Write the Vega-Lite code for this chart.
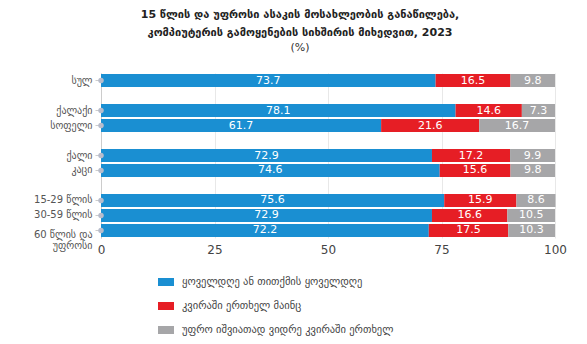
{
  "$schema": "https://vega.github.io/schema/vega-lite/v6.json",
  "width": 454,
  "height": 165,
  "autosize": {"type": "none"},
  "padding": {"top": 73, "left": 101, "right": 32, "bottom": 106},
  "background": "white",
  "config": {
    "view": {"stroke": null},
    "font": "DejaVu Sans"
  },
  "title": {
    "text": ["15 წლის და უფროსი ასაკის მოსახლეობის განაწილება,", "კომპიუტერის გამოყენების სიხშირის მიხედვით, 2023"],
    "subtitle": "(%)",
    "anchor": "middle",
    "frame": "group",
    "dx": -28,
    "fontSize": 11,
    "fontWeight": "bold",
    "color": "#222",
    "lineHeight": 18,
    "subtitleFontSize": 11,
    "subtitleColor": "#333",
    "subtitlePadding": 4,
    "offset": 20
  },
  "data": {
    "values": [
      {"cat": "სულ", "series": "ყოველდღე ან თითქმის ყოველდღე", "ord": 1, "value": 73.7},
      {"cat": "სულ", "series": "კვირაში ერთხელ მაინც", "ord": 2, "value": 16.5},
      {"cat": "სულ", "series": "უფრო იშვიათად ვიდრე კვირაში ერთხელ", "ord": 3, "value": 9.8},
      {"cat": "ქალაქი", "series": "ყოველდღე ან თითქმის ყოველდღე", "ord": 1, "value": 78.1},
      {"cat": "ქალაქი", "series": "კვირაში ერთხელ მაინც", "ord": 2, "value": 14.6},
      {"cat": "ქალაქი", "series": "უფრო იშვიათად ვიდრე კვირაში ერთხელ", "ord": 3, "value": 7.3},
      {"cat": "სოფელი", "series": "ყოველდღე ან თითქმის ყოველდღე", "ord": 1, "value": 61.7},
      {"cat": "სოფელი", "series": "კვირაში ერთხელ მაინც", "ord": 2, "value": 21.6},
      {"cat": "სოფელი", "series": "უფრო იშვიათად ვიდრე კვირაში ერთხელ", "ord": 3, "value": 16.7},
      {"cat": "ქალი", "series": "ყოველდღე ან თითქმის ყოველდღე", "ord": 1, "value": 72.9},
      {"cat": "ქალი", "series": "კვირაში ერთხელ მაინც", "ord": 2, "value": 17.2},
      {"cat": "ქალი", "series": "უფრო იშვიათად ვიდრე კვირაში ერთხელ", "ord": 3, "value": 9.9},
      {"cat": "კაცი", "series": "ყოველდღე ან თითქმის ყოველდღე", "ord": 1, "value": 74.6},
      {"cat": "კაცი", "series": "კვირაში ერთხელ მაინც", "ord": 2, "value": 15.6},
      {"cat": "კაცი", "series": "უფრო იშვიათად ვიდრე კვირაში ერთხელ", "ord": 3, "value": 9.8},
      {"cat": "15-29 წლის", "series": "ყოველდღე ან თითქმის ყოველდღე", "ord": 1, "value": 75.6},
      {"cat": "15-29 წლის", "series": "კვირაში ერთხელ მაინც", "ord": 2, "value": 15.9},
      {"cat": "15-29 წლის", "series": "უფრო იშვიათად ვიდრე კვირაში ერთხელ", "ord": 3, "value": 8.6},
      {"cat": "30-59 წლის", "series": "ყოველდღე ან თითქმის ყოველდღე", "ord": 1, "value": 72.9},
      {"cat": "30-59 წლის", "series": "კვირაში ერთხელ მაინც", "ord": 2, "value": 16.6},
      {"cat": "30-59 წლის", "series": "უფრო იშვიათად ვიდრე კვირაში ერთხელ", "ord": 3, "value": 10.5},
      {"cat": "60 წლის და უფროსი", "series": "ყოველდღე ან თითქმის ყოველდღე", "ord": 1, "value": 72.2},
      {"cat": "60 წლის და უფროსი", "series": "კვირაში ერთხელ მაინც", "ord": 2, "value": 17.5},
      {"cat": "60 წლის და უფროსი", "series": "უფრო იშვიათად ვიდრე კვირაში ერთხელ", "ord": 3, "value": 10.3}
    ]
  },
  "transform": [
    {"stack": "value", "groupby": ["cat"], "sort": [{"field": "ord", "order": "ascending"}], "as": ["x0", "x1"]},
    {"calculate": "(datum.x0 + datum.x1) / 2", "as": "xmid"}
  ],
  "encoding": {
    "y": {
      "field": "cat",
      "type": "nominal",
      "title": null,
      "scale": {
        "domain": ["სულ", "g1", "ქალაქი", "სოფელი", "g2", "ქალი", "კაცი", "g3", "15-29 წლის", "30-59 წლის", "60 წლის და უფროსი"],
        "paddingInner": 0.13,
        "paddingOuter": 0.07
      },
      "axis": {
        "labelExpr": "datum.value == '60 წლის და უფროსი' ? ['60 წლის და', 'უფროსი'] : (indexof(['g1','g2','g3'], datum.value) >= 0 ? '' : datum.label)",
        "labelFontSize": 10,
        "labelColor": "#555",
        "labelPadding": 3,
        "labelOffset": {"condition": {"test": "datum.value == '60 წლის და უფროსი'", "value": 5}, "value": 0},
        "labelLineHeight": 11,
        "domainColor": "#cccccc",
        "tickColor": "#cccccc",
        "tickOpacity": {"condition": {"test": "indexof(['g1','g2','g3'], datum.value) >= 0", "value": 0}, "value": 1},
        "tickSize": 6,
        "grid": false
      }
    }
  },
  "layer": [
    {
      "mark": {"type": "bar"},
      "encoding": {
        "x": {
          "field": "x0",
          "type": "quantitative",
          "scale": {"domain": [0, 100], "nice": false},
          "title": null,
          "axis": {
            "values": [0, 25, 50, 75, 100],
            "domain": false,
            "ticks": false,
            "grid": true,
            "gridColor": "#e8e8e8",
            "labelFontSize": 12,
            "labelColor": "#444",
            "labelPadding": 6,
            "labelFlush": false
          }
        },
        "x2": {"field": "x1"},
        "color": {
          "field": "series",
          "type": "nominal",
          "sort": ["ყოველდღე ან თითქმის ყოველდღე", "კვირაში ერთხელ მაინც", "უფრო იშვიათად ვიდრე კვირაში ერთხელ"],
          "scale": {
            "domain": ["ყოველდღე ან თითქმის ყოველდღე", "კვირაში ერთხელ მაინც", "უფრო იშვიათად ვიდრე კვირაში ერთხელ"],
            "range": ["#1a8fd2", "#e61e25", "#a6a6a8"]
          },
          "legend": {
            "title": null,
            "orient": "none",
            "legendX": 57,
            "legendY": 201,
            "direction": "vertical",
            "symbolType": "M-1,-0.5H1V0.5H-1Z",
            "symbolSize": 256,
            "symbolStrokeWidth": 0,
            "labelFontSize": 10.5,
            "labelColor": "#444",
            "labelOffset": 8,
            "labelLimit": 0,
            "rowPadding": 10
          }
        }
      }
    },
    {
      "mark": {"type": "text", "color": "white", "fontSize": 11, "baseline": "middle", "align": "center"},
      "encoding": {
        "x": {"field": "xmid", "type": "quantitative"},
        "text": {"field": "value", "type": "quantitative", "format": ".1f"}
      }
    },
    {
      "transform": [{"filter": "datum.ord == 1"}],
      "mark": {"type": "point", "filled": true, "color": "#b8bccb", "size": 30, "opacity": 1},
      "encoding": {
        "x": {"datum": 0, "type": "quantitative"}
      }
    }
  ]
}
